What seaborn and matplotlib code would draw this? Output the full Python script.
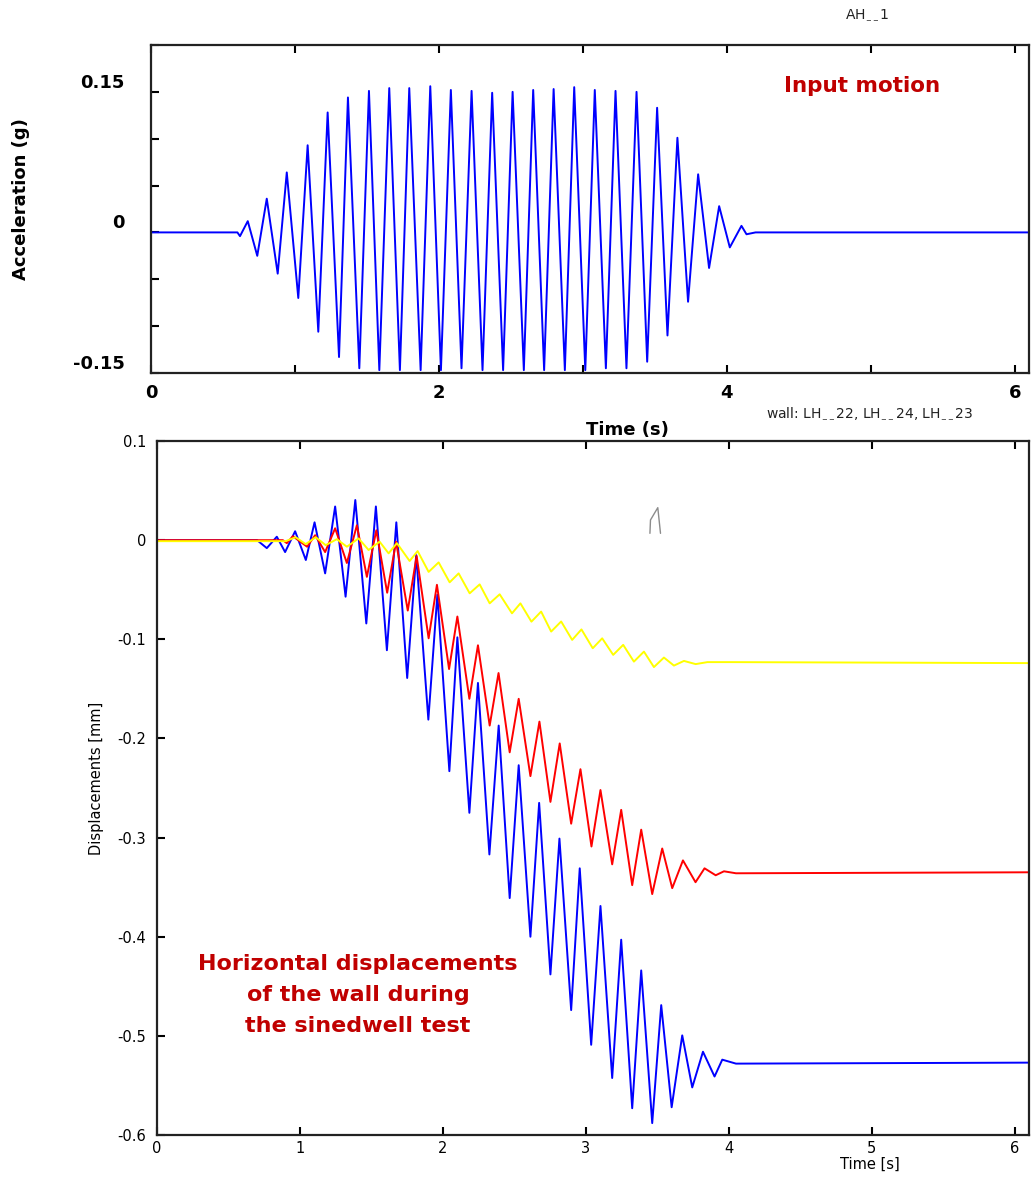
import numpy as np
import pandas as pd
import matplotlib
matplotlib.use("Agg")
import matplotlib.pyplot as plt
import seaborn as sns

# ---------------- data ----------------
# Input motion (acceleration, g) - extrema
acc_t = [0.000, 0.600, 0.618, 0.672, 0.738, 0.804, 0.880, 0.943, 1.023, 1.088,
         1.162, 1.227, 1.306, 1.368, 1.447, 1.514, 1.586, 1.655, 1.729, 1.794,
         1.873, 1.940, 2.014, 2.083, 2.157, 2.227, 2.303, 2.370, 2.446, 2.512,
         2.590, 2.655, 2.731, 2.797, 2.875, 2.940, 3.017, 3.083, 3.160, 3.227,
         3.303, 3.373, 3.447, 3.516, 3.588, 3.657, 3.731, 3.801, 3.877, 3.947,
         4.021, 4.102, 4.137, 4.200, 6.100]
acc_g = [0.000, 0.000, -0.004, 0.012, -0.025, 0.036, -0.044, 0.064, -0.070, 0.093,
         -0.106, 0.128, -0.133, 0.144, -0.145, 0.151, -0.147, 0.154, -0.147, 0.154,
         -0.147, 0.156, -0.147, 0.152, -0.145, 0.151, -0.147, 0.149, -0.147, 0.150,
         -0.147, 0.152, -0.147, 0.153, -0.147, 0.155, -0.147, 0.152, -0.145, 0.151,
         -0.145, 0.150, -0.138, 0.133, -0.110, 0.101, -0.074, 0.062, -0.038, 0.028,
         -0.016, 0.007, -0.002, 0.000, 0.000]

# Wall displacements (mm)
blue_t = [0.000, 0.700, 0.768, 0.838, 0.896, 0.966, 1.041, 1.102, 1.176, 1.246,
          1.319, 1.387, 1.464, 1.531, 1.608, 1.674, 1.750, 1.813, 1.898, 1.961,
          2.045, 2.101, 2.185, 2.245, 2.325, 2.390, 2.467, 2.530, 2.612, 2.673,
          2.752, 2.815, 2.897, 2.957, 3.037, 3.102, 3.184, 3.247, 3.324, 3.387,
          3.464, 3.527, 3.600, 3.674, 3.744, 3.819, 3.900, 3.954, 4.050, 6.100]
blue_mm = [0.000, 0.000, -0.008, 0.0035, -0.012, 0.009, -0.020, 0.018, -0.0335, 0.034,
           -0.057, 0.0405, -0.084, 0.034, -0.111, 0.018, -0.139, -0.015, -0.181, -0.055,
           -0.233, -0.098, -0.275, -0.144, -0.317, -0.187, -0.361, -0.227, -0.400, -0.265,
           -0.438, -0.301, -0.474, -0.331, -0.509, -0.369, -0.5425, -0.403, -0.573, -0.434,
           -0.588, -0.469, -0.572, -0.4995, -0.552, -0.516, -0.541, -0.524, -0.528, -0.527]

red_t = [0.000, 0.880, 0.908, 0.950, 1.050, 1.106, 1.176, 1.246, 1.328, 1.398,
         1.468, 1.534, 1.610, 1.672, 1.754, 1.816, 1.900, 1.958, 2.043, 2.101,
         2.185, 2.245, 2.327, 2.389, 2.467, 2.530, 2.612, 2.675, 2.752, 2.817,
         2.897, 2.962, 3.039, 3.102, 3.184, 3.247, 3.324, 3.387, 3.464, 3.534,
         3.604, 3.679, 3.767, 3.830, 3.908, 3.966, 4.050, 6.100]
red_mm = [0.000, 0.000, -0.003, 0.004, -0.0066, 0.005, -0.012, 0.012, -0.023, 0.015,
          -0.037, 0.010, -0.053, -0.0015, -0.071, -0.016, -0.099, -0.045, -0.130, -0.077,
          -0.160, -0.106, -0.187, -0.134, -0.214, -0.160, -0.238, -0.183, -0.264, -0.205,
          -0.286, -0.231, -0.309, -0.252, -0.327, -0.272, -0.348, -0.292, -0.357, -0.311,
          -0.351, -0.323, -0.345, -0.331, -0.338, -0.334, -0.336, -0.335]

yellow_t = [0.000, 0.900, 0.970, 1.040, 1.110, 1.180, 1.258, 1.328, 1.410, 1.480,
            1.557, 1.620, 1.678, 1.767, 1.823, 1.900, 1.970, 2.047, 2.110, 2.187,
            2.257, 2.327, 2.397, 2.483, 2.542, 2.619, 2.687, 2.757, 2.827, 2.904,
            2.969, 3.048, 3.114, 3.191, 3.261, 3.336, 3.406, 3.476, 3.546, 3.616,
            3.686, 3.768, 3.850, 4.012, 6.100]
yellow_mm = [-0.001, -0.001, 0.003, -0.004, 0.003, -0.005, 0.001, -0.0066, 0.0018, -0.0099,
             -0.0015, -0.0133, -0.003, -0.021, -0.011, -0.032, -0.0224, -0.0425, -0.0335, -0.0536,
             -0.0446, -0.0637, -0.0546, -0.0738, -0.0637, -0.0822, -0.072, -0.0922, -0.082, -0.1006,
             -0.090, -0.109, -0.099, -0.1157, -0.1056, -0.1225, -0.1124, -0.128, -0.1184, -0.1265,
             -0.1218, -0.125, -0.123, -0.123, -0.124]

# small stray grey mark in the lower plot
mark_t = [3.448, 3.452, 3.503, 3.522]
mark_mm = [0.0069, 0.0204, 0.0328, 0.0069]

acc_yticks = [-0.15, -0.10, -0.05, 0.0, 0.05, 0.10, 0.15, 0.20]
acc_yticklabels = ["-0.15", "", "", "0", "", "", "0.15", ""]
acc_xticks = [0, 1, 2, 3, 4, 5, 6]
acc_xticklabels = ["0", "", "2", "", "4", "", "6"]
disp_yticks = [0.1, 0.0, -0.1, -0.2, -0.3, -0.4, -0.5, -0.6]
disp_yticklabels = ["0.1", "0", "-0.1", "-0.2", "-0.3", "-0.4", "-0.5", "-0.6"]
disp_xticks = [0, 1, 2, 3, 4, 5, 6]

# ---------------- figure ----------------
sns.set_theme(style="white")
plt.rcParams["font.family"] = ["DejaVu Sans"]
plt.rcParams["text.color"] = "black"
plt.rcParams["axes.labelcolor"] = "black"
plt.rcParams["xtick.color"] = "black"
plt.rcParams["ytick.color"] = "black"

fig = plt.figure(figsize=(10.31, 11.78), dpi=100)
ax1 = fig.add_axes([0.1465, 0.6834, 0.8516, 0.2784])
ax2 = fig.add_axes([0.1523, 0.0365, 0.8458, 0.5891])
ax2.patch.set_alpha(0)
ax1.set_zorder(3)
ax1.patch.set_alpha(0)

df_acc = pd.DataFrame({"t": acc_t, "a": acc_g})
sns.lineplot(data=df_acc, x="t", y="a", ax=ax1, color="#0000ff", lw=1.4,
             estimator=None, sort=False)

for t, v, c in [(blue_t, blue_mm, "#0000ff"), (red_t, red_mm, "#ff0000"),
                (yellow_t, yellow_mm, "#ffff00")]:
    d = pd.DataFrame({"t": t, "v": v})
    sns.lineplot(data=d, x="t", y="v", ax=ax2, color=c, lw=1.4,
                 estimator=None, sort=False)
sns.lineplot(x=mark_t, y=mark_mm, ax=ax2, color="#8c8c8c", lw=1.0,
             estimator=None, sort=False)

# ---- top axes styling
ax1.set_xlim(0, 6.1)
ax1.set_ylim(-0.15, 0.2)
ax1.set_xticks(acc_xticks)
ax1.set_xticklabels(acc_xticklabels, fontsize=13, fontweight="bold")
ax1.set_yticks(acc_yticks)
ax1.set_yticklabels(acc_yticklabels, fontsize=13, fontweight="bold")
for lab in ax1.get_yticklabels():
    lab.set_verticalalignment("bottom")
ax1.tick_params(axis="both", direction="in", length=6, width=1.5, color="black",
                top=True, bottom=True, left=True, right=False)
ax1.tick_params(axis="y", pad=19)
ax1.tick_params(axis="x", pad=8)
ax1.set_xlabel("Time (s)", fontsize=13, fontweight="bold")
ax1.xaxis.set_label_coords(0.543, -0.145)
ax1.set_ylabel("Acceleration (g)", fontsize=13, fontweight="bold")
ax1.yaxis.set_label_coords(-0.138, 0.53)
for s in ax1.spines.values():
    s.set_color("#222222")
    s.set_linewidth(1.6)
ax1.text(0.81, 0.874, "Input motion", transform=ax1.transAxes, ha="center",
         va="center", fontsize=15.5, fontweight="bold", color="#c00000")

# ---- bottom axes styling
ax2.set_xlim(0, 6.1)
ax2.set_ylim(-0.6, 0.1)
ax2.set_xticks(disp_xticks)
ax2.set_xticklabels([str(x) for x in disp_xticks], fontsize=10.5)
ax2.set_yticks(disp_yticks)
ax2.set_yticklabels(disp_yticklabels, fontsize=10.5)
ax2.tick_params(axis="both", direction="in", length=6, width=1.5, color="black",
                top=True, bottom=True, left=True, right=False)
ax2.tick_params(axis="y", pad=8)
ax2.tick_params(axis="x", pad=4)
ax2.set_xlabel("Time [s]", fontsize=10.5)
ax2.xaxis.set_label_coords(0.818, -0.031)
ax2.set_ylabel("Displacements [mm]", fontsize=10.5)
ax2.yaxis.set_label_coords(-0.061, 0.514)
for s in ax2.spines.values():
    s.set_color("#222222")
    s.set_linewidth(1.6)
ax2.text(0.2305, 0.2017, "Horizontal displacements\nof the wall during\nthe sinedwell test",
         transform=ax2.transAxes, ha="center", va="center", fontsize=16,
         fontweight="bold", color="#c00000", linespacing=1.7)

fig.text(0.841, 0.9873, r"AH$_{_{--}}$1", ha="center", va="center", fontsize=10,
         color="#222222")
fig.text(0.8438, 0.6494, r"wall: LH$_{_{--}}$22, LH$_{_{--}}$24, LH$_{_{--}}$23",
         ha="center", va="center", fontsize=10, color="#222222")

fig.savefig("out.png", dpi=100)
